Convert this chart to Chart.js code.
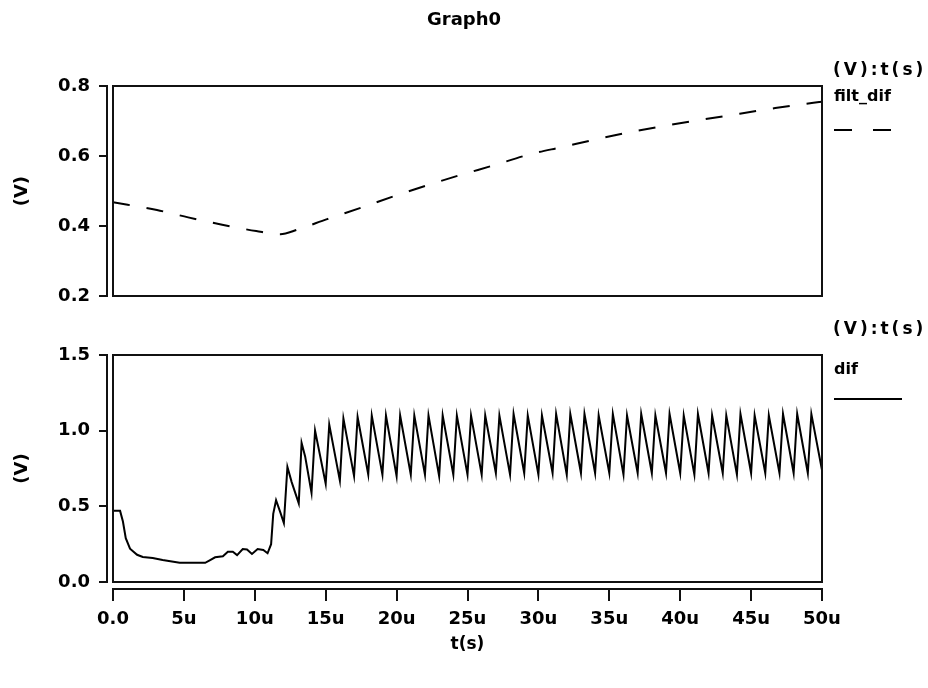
<!DOCTYPE html>
<html><head><meta charset="utf-8">
<script src="https://cdn.jsdelivr.net/npm/chart.js@4"></script>
<style>
html,body{margin:0;padding:0;background:#fff;}
#wrap{position:relative;width:928px;height:688px;background:#fff;overflow:hidden;}
canvas{position:absolute;left:0;}
#c1{top:0;width:928px;height:330px;}
#c2{top:310px;width:928px;height:378px;}
</style></head><body>
<div id="wrap"><canvas id="c1" width="928" height="330"></canvas><canvas id="c2" width="928" height="378"></canvas></div>
<script>
// ---- text ----
const chartTitle = 'Graph0';
const axisUnitLabel = '(V):t(s)';
const yAxisTitle = '(V)';
const xAxisTitle = 't(s)';
const topSeriesName = 'filt_dif';
const bottomSeriesName = 'dif';
const xTickLabels = ['0.0','5u','10u','15u','20u','25u','30u','35u','40u','45u','50u'];
const topTickLabels = ['0.2','0.4','0.6','0.8'];
const bottomTickLabels = ['0.0','0.5','1.0','1.5'];

// ---- filt_dif (time in us, volts) ----
const filtT = [0, 3.1, 5.3, 7.7, 10.1, 11.8, 13.0, 15.1, 17.6, 20.0, 22.2, 24.5, 26.8, 29.4, 31.7, 34.2, 36.8, 39.3, 41.7, 44.2, 46.7, 49.4, 50];
const filtV = [0.468, 0.446, 0.425, 0.404, 0.386, 0.377, 0.390, 0.420, 0.454, 0.488, 0.517, 0.546, 0.573, 0.605, 0.626, 0.649, 0.671, 0.689, 0.705, 0.721, 0.737, 0.752, 0.755];

// ---- dif (time in us, volts) ----
const difT = [0, 0.5, 0.7, 0.9, 1.2, 1.7, 2.1, 2.8, 3.5, 4.7, 6.5, 6.85, 7.2, 7.75, 8.1, 8.45, 8.75, 9.15, 9.45, 9.8, 10.2, 10.6, 10.9, 11.15, 11.3, 11.5, 11.8, 12.05, 12.3, 12.6, 13.1, 13.3, 13.55, 14.0, 14.25, 15.0, 15.25, 16.0, 16.25,
  17.0, 17.25, 18.0, 18.25, 19.0, 19.25, 20.0, 20.25, 21.0, 21.25, 22.0, 22.25, 23.0, 23.25, 24.0, 24.25, 25.0, 25.25, 26.0, 26.25,
  27.0, 27.25, 28.0, 28.25, 29.0, 29.25, 30.0, 30.25, 31.0, 31.25, 32.0, 32.25, 33.0, 33.25, 34.0, 34.25, 35.0, 35.25, 36.0, 36.25,
  37.0, 37.25, 38.0, 38.25, 39.0, 39.25, 40.0, 40.25, 41.0, 41.25, 42.0, 42.25, 43.0, 43.25, 44.0, 44.25, 45.0, 45.25, 46.0, 46.25,
  47.0, 47.25, 48.0, 48.25, 49.0, 49.25, 50.0];
const difV = [0.47, 0.47, 0.40, 0.29, 0.22, 0.18, 0.165, 0.158, 0.145, 0.127, 0.127, 0.145, 0.163, 0.17, 0.20, 0.20, 0.178, 0.218, 0.215, 0.185, 0.218, 0.212, 0.19, 0.25, 0.45, 0.54, 0.46, 0.39, 0.76, 0.66, 0.52, 0.92, 0.83, 0.59, 1.00, 0.65, 1.04, 0.67, 1.08,
  0.70, 1.09, 0.71, 1.10, 0.71, 1.10, 0.70, 1.10, 0.71, 1.10, 0.71, 1.10, 0.70, 1.10, 0.71, 1.10, 0.71, 1.10, 0.71, 1.10,
  0.72, 1.10, 0.71, 1.11, 0.72, 1.10, 0.71, 1.10, 0.72, 1.11, 0.71, 1.11, 0.72, 1.11, 0.72, 1.10, 0.72, 1.11, 0.71, 1.10,
  0.72, 1.11, 0.72, 1.10, 0.72, 1.11, 0.72, 1.10, 0.71, 1.11, 0.72, 1.10, 0.72, 1.10, 0.71, 1.11, 0.72, 1.10, 0.72, 1.10,
  0.72, 1.11, 0.72, 1.11, 0.72, 1.11, 0.74];

const FONT = 'DejaVu Sans';
const INK = '#000';

const framePlugin = {
  id: 'frame',
  afterDraw(chart, args, opts) {
    const ctx = chart.ctx, a = chart.chartArea;
    ctx.save();
    ctx.strokeStyle = '#111';
    ctx.lineWidth = 2;
    ctx.strokeRect(Math.round(a.left), Math.round(a.top), Math.round(a.right - a.left), Math.round(a.bottom - a.top));
    // separate y axis with ticks
    const ys = chart.scales.y;
    const ax = Math.round(a.left) - 6;
    ctx.beginPath();
    ctx.moveTo(ax, Math.round(a.top) - 1);
    ctx.lineTo(ax, Math.round(a.bottom) + 1);
    ys.ticks.forEach(t => {
      const py = Math.round(ys.getPixelForValue(t.value));
      ctx.moveTo(ax - 8, py);
      ctx.lineTo(ax, py);
    });
    ctx.stroke();
    if (opts.xAxis) {
      const xs = chart.scales.x;
      const ay = Math.round(a.bottom) + 7;
      ctx.beginPath();
      ctx.moveTo(Math.round(a.left) - 1, ay);
      ctx.lineTo(Math.round(a.right) + 1, ay);
      xs.ticks.forEach(t => {
        const px = Math.round(xs.getPixelForValue(t.value));
        ctx.moveTo(px, ay);
        ctx.lineTo(px, ay + 12);
      });
      ctx.stroke();
    }
    // right-side legend
    ctx.fillStyle = INK;
    ctx.textBaseline = 'middle';
    ctx.textAlign = 'left';
    (opts.texts || []).forEach(tx => {
      ctx.font = 'bold ' + (tx.size || 16) + 'px "' + FONT + '"';
      try { ctx.letterSpacing = tx.ls || '0px'; } catch (e) {}
      ctx.fillText(tx.text, tx.x, tx.y);
    });
    try { ctx.letterSpacing = '0px'; } catch (e) {}
    if (opts.sample) {
      const s = opts.sample;
      ctx.strokeStyle = INK;
      ctx.lineWidth = 2;
      ctx.setLineDash(s.dash || []);
      ctx.beginPath();
      ctx.moveTo(s.x1, s.y);
      ctx.lineTo(s.x2, s.y);
      ctx.stroke();
      ctx.setLineDash([]);
    }
    ctx.restore();
  }
};

const tickFont = { family: FONT, size: 18, weight: 'bold' };
const yTitleFont = { family: FONT, size: 18, weight: 'bold' };
const xTitleFont = { family: FONT, size: 17, weight: 'bold' };

function yScale(min, max, step, labels) {
  return {
    type: 'linear', min: min, max: max,
    ticks: { stepSize: step, color: INK, font: tickFont, padding: 23,
      callback: (v, i) => labels[i] },
    grid: { display: false, drawTicks: false },
    border: { display: false },
    title: { display: true, text: yAxisTitle, color: INK, font: yTitleFont, padding: { top: 12, bottom: 0 } },
    afterFit: s => { s.width = 113; }
  };
}
// empty right-hand strip reserving room for the side legend
function sideScale(min, max) {
  return {
    type: 'linear', position: 'right', min: min, max: max, display: true,
    ticks: { display: false }, grid: { display: false, drawTicks: false }, border: { display: false },
    afterFit: s => { s.width = 106; }
  };
}

// ---- top chart ----
new Chart(document.getElementById('c1'), {
  type: 'line',
  data: { datasets: [{
    label: topSeriesName,
    data: filtT.map((t, i) => ({ x: t, y: filtV[i] })),
    borderColor: INK, borderWidth: 2, borderDash: [17, 17],
    pointRadius: 0, cubicInterpolationMode: 'monotone', fill: false
  }] },
  options: {
    responsive: false, animation: false, devicePixelRatio: 1,
    layout: { padding: { left: 0, right: 0, top: 0, bottom: 17 } },
    plugins: {
      legend: { display: false }, tooltip: { enabled: false },
      title: { display: true, text: chartTitle, color: INK, font: { family: FONT, size: 18, weight: 'bold' }, padding: { top: 10, bottom: 54.4 } },
      frame: {
        xAxis: false,
        texts: [
          { text: axisUnitLabel, x: 833, y: 71, ls: '3px', size: 17 },
          { text: topSeriesName, x: 834, y: 97, size: 16 }
        ],
        sample: { x1: 834, x2: 893, y: 130, dash: [18, 21] }
      }
    },
    scales: {
      x: { type: 'linear', min: 0, max: 50, display: false },
      y: yScale(0.2, 0.8, 0.2, topTickLabels),
      side: sideScale(0.2, 0.8)
    }
  },
  plugins: [framePlugin]
});

// ---- bottom chart ----
new Chart(document.getElementById('c2'), {
  type: 'line',
  data: { datasets: [{
    label: bottomSeriesName,
    data: difT.map((t, i) => ({ x: t, y: difV[i] })),
    borderColor: INK, borderWidth: 2,
    pointRadius: 0, tension: 0, fill: false
  }] },
  options: {
    responsive: false, animation: false, devicePixelRatio: 1,
    layout: { padding: { left: 0, right: 0, top: 45, bottom: 0 } },
    plugins: {
      legend: { display: false }, tooltip: { enabled: false }, title: { display: false },
      frame: {
        xAxis: true,
        texts: [
          { text: axisUnitLabel, x: 833, y: 20, ls: '3px', size: 17 },
          { text: bottomSeriesName, x: 834, y: 60, size: 16 }
        ],
        sample: { x1: 834, x2: 902, y: 89, dash: [] }
      }
    },
    scales: {
      x: {
        type: 'linear', min: 0, max: 50,
        ticks: { stepSize: 5, color: INK, font: tickFont, padding: 27, maxRotation: 0, autoSkip: false,
          callback: (v, i) => xTickLabels[i] },
        grid: { display: false, drawTicks: false },
        border: { display: false },
        title: { display: true, text: xAxisTitle, color: INK, font: xTitleFont, padding: { top: 0, bottom: 33 } },
        afterFit: s => { s.height = 106; }
      },
      y: yScale(0, 1.5, 0.5, bottomTickLabels),
      side: sideScale(0, 1.5)
    }
  },
  plugins: [framePlugin]
});
</script>
</body></html>
